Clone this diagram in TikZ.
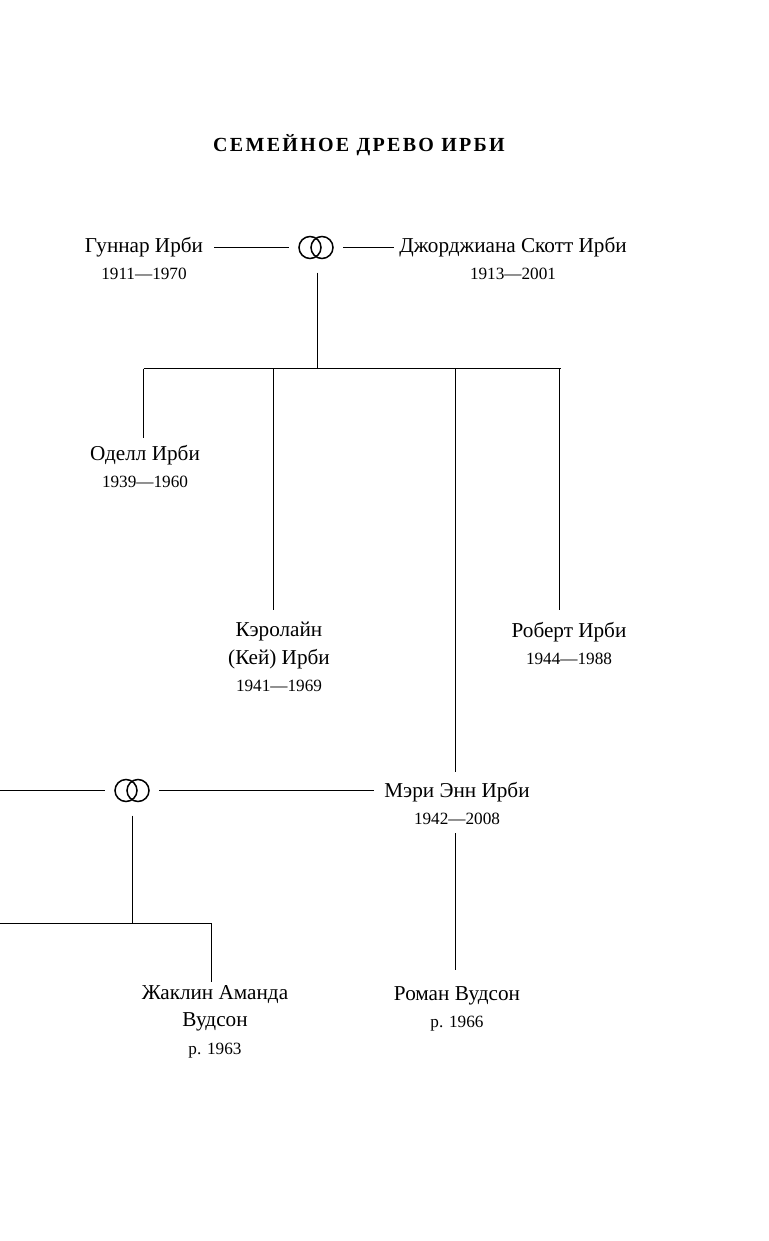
\documentclass[tikz,border=0pt]{standalone}
\usepackage{fontspec}
\setmainfont{Liberation Serif}
\newfontfamily\titlefont[LetterSpace=11.5]{Liberation Serif}
\newcommand{\yearfont}{\fontsize{17.2}{27.5}\selectfont}
\begin{document}
\begin{tikzpicture}[
  x=1pt, y=-1pt,
  % Box styles
  person/.style   = {anchor=north, align=center, inner sep=0pt,
                     font=\fontsize{21.2}{27.5}\selectfont},
  titlebox/.style = {inner sep=0pt, font=\titlefont\bfseries\fontsize{20}{24}\selectfont},
  wedbox/.style   = {inner sep=0pt, minimum width=54pt, minimum height=50pt},
  ringbox/.style  = {draw, circle, line width=1.5pt, inner sep=0pt, minimum size=22pt},
  % Line styles
  kinline/.style  = {line width=1pt},
]
\useasboundingbox (0,0) rectangle (768,1241);

% ── Nodes ──────────────────────────────────────────────────────────────────────

\node[titlebox] (title) at (359, 145) {СЕМЕЙНОЕ ДРЕВО ИРБИ};

% Parents
\node[person] (gunnar) at (144, 237) {Гуннар Ирби\\{\yearfont 1911—1970}};
\node[person] (georgiana) at (513, 237) {Джорджиана Скотт Ирби\\{\yearfont 1913—2001}};

\node[wedbox] (wedtop) at (316, 247.5) {};
\node[ringbox, xshift=-6pt] (wedtopl) at (wedtop) {};
\node[ringbox, xshift=6pt] (wedtopr) at (wedtop) {};

% Children
\node[person] (odell) at (145, 445) {Оделл Ирби\\{\yearfont 1939—1960}};
\node[person] (caroline) at (279, 622) {Кэролайн\\(Кей) Ирби\\{\yearfont 1941—1969}};
\node[person] (robert) at (569, 622) {Роберт Ирби\\{\yearfont 1944—1988}};
\node[person] (mary) at (457, 782) {Мэри Энн Ирби\\{\yearfont 1942—2008}};

\node[wedbox] (wedlow) at (132, 790.5) {};
\node[ringbox, xshift=-6pt] (wedlowl) at (wedlow) {};
\node[ringbox, xshift=6pt] (wedlowr) at (wedlow) {};

% Grandchildren
\node[person] (jacqueline) at (215, 985) {Жаклин Аманда\\Вудсон\\{\yearfont р. 1963}};
\node[person] (roman) at (457, 986) {Роман Вудсон\\{\yearfont р. 1966}};

% Bus points
\coordinate (bustrunk) at (317.5, 368.5);
\coordinate (busodell) at (143.5, 368.5);
\coordinate (buscaroline) at (273.5, 368.5);
\coordinate (busmary) at (455.5, 368.5);
\coordinate (busrobert) at (559.5, 368.5);
\coordinate (busend) at (560.5, 368.5);
\coordinate (lowtrunk) at (132.5, 923.5);
\coordinate (lowjacq) at (211.5, 923.5);
\coordinate (edgeup) at (0, 790.5);
\coordinate (edgedown) at (0, 923.5);

% ── Lines ──────────────────────────────────────────────────────────────────────

% Parents to rings
\draw[kinline] ([xshift=11pt]wedtop.west -| gunnar.east) -- (wedtop.west);
\draw[kinline] (wedtop.east) -- ([xshift=-5pt]wedtop.east -| georgiana.west);
\draw[kinline] (wedtop.south -| bustrunk) -- (bustrunk);

% Bus and drops
\draw[kinline] (busodell) -- (busend);
\draw[kinline] (busodell) -- ([yshift=7pt]busodell |- odell.north);
\draw[kinline] (buscaroline) -- ([yshift=12pt]buscaroline |- caroline.north);
\draw[kinline] (busmary) -- ([yshift=10pt]busmary |- mary.north);
\draw[kinline] (busrobert) -- ([yshift=12pt]busrobert |- robert.north);

% Lower family
\draw[kinline] (edgeup) -- (wedlow.west);
\draw[kinline] (wedlow.east) -- ([xshift=-10pt]wedlow.east -| mary.west);
\draw[kinline] (wedlow.south -| lowtrunk) -- (lowtrunk);
\draw[kinline] (edgedown) -- (lowjacq);
\draw[kinline] (lowjacq) -- ([yshift=3pt]lowjacq |- jacqueline.north);
\draw[kinline] ([yshift=-8pt]busmary |- mary.south) -- ([yshift=16pt]busmary |- roman.north);

\end{tikzpicture}
\end{document}
